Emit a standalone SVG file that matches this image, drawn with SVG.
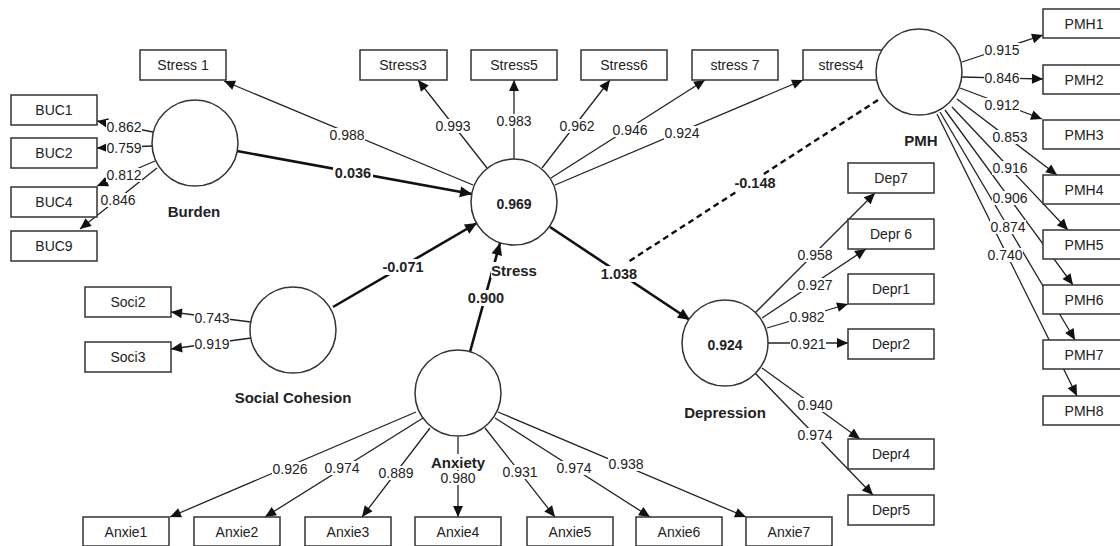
<svg xmlns="http://www.w3.org/2000/svg" width="1120" height="546" viewBox="0 0 1120 546">
<defs>
<marker id="ah" viewBox="0 0 10 10" refX="10" refY="5" markerWidth="12" markerHeight="11" markerUnits="userSpaceOnUse" orient="auto"><path d="M0,0.5 L10,5 L0,9.5 z" fill="#111"/></marker>
<marker id="ahb" viewBox="0 0 10 10" refX="10" refY="5" markerWidth="14" markerHeight="12" markerUnits="userSpaceOnUse" orient="auto"><path d="M0,0.5 L10,5 L0,9.5 z" fill="#111"/></marker>
</defs>
<style>
.ind{stroke:#222;stroke-width:1.3;fill:none;marker-end:url(#ah)}
.str{stroke:#111;stroke-width:2.6;fill:none;marker-end:url(#ahb)}
.dash{stroke:#111;stroke-width:2.4;fill:none;stroke-dasharray:6 4}
.box{fill:#fff;stroke:#333;stroke-width:1.5}
.lv{fill:#fff;stroke:#333;stroke-width:1.5}
.bg{fill:#fff;stroke:none}
.bt{font-family:"Liberation Sans",Arial,sans-serif;font-size:14px;fill:#222;text-anchor:middle;dominant-baseline:central}
.lbl{font-family:"Liberation Sans",Arial,sans-serif;font-size:14px;fill:#222;text-anchor:middle;dominant-baseline:central}
.blbl{font-family:"Liberation Sans",Arial,sans-serif;font-size:14.5px;font-weight:bold;fill:#222;text-anchor:middle;dominant-baseline:central}
.nm{font-family:"Liberation Sans",Arial,sans-serif;font-size:15px;font-weight:bold;fill:#222;text-anchor:middle;dominant-baseline:central}
.val{font-family:"Liberation Sans",Arial,sans-serif;font-size:14px;font-weight:bold;fill:#222;text-anchor:middle;dominant-baseline:central}
</style>
<rect width="1120" height="546" fill="#fff"/>
<g id="connectors">
<path class="str" d="M237,151 L472,194"/>
<path class="str" d="M333,307 L477,223"/>
<path class="str" d="M470,352 L500,243"/>
<path class="str" d="M550,227 L690,320"/>
<path class="dash" d="M878,100 L628,262"/>
<path class="ind" d="M473,185 L224,81"/>
<path class="ind" d="M487,168 L418,80"/>
<path class="ind" d="M514,160 L514,80"/>
<path class="ind" d="M542,168 L610,80"/>
<path class="ind" d="M551,178 L705,80"/>
<path class="ind" d="M555,185 L803,80"/>
<path class="ind" d="M153,132 L97,121"/>
<path class="ind" d="M153,146 L97,148"/>
<path class="ind" d="M155,161 L97,186"/>
<path class="ind" d="M157,168 L80,229"/>
<path class="ind" d="M251,322 L171,312"/>
<path class="ind" d="M251,338 L171,349"/>
<path class="ind" d="M416,412 L170,517"/>
<path class="ind" d="M423,418 L265,517"/>
<path class="ind" d="M430,428 L362,517"/>
<path class="ind" d="M458,437 L458,517"/>
<path class="ind" d="M485,428 L555,517"/>
<path class="ind" d="M495,418 L650,517"/>
<path class="ind" d="M498,412 L746,517"/>
<path class="ind" d="M755,313 L875,193"/>
<path class="ind" d="M762,318 L866,249"/>
<path class="ind" d="M767,328 L848,304"/>
<path class="ind" d="M768,343 L848,343"/>
<path class="ind" d="M762,368 L860,439"/>
<path class="ind" d="M755,373 L873,495"/>
<path class="ind" d="M962,62 L1043,35"/>
<path class="ind" d="M962,77 L1043,79"/>
<path class="ind" d="M960,88 L1042,119"/>
<path class="ind" d="M957,99 L1057,175"/>
<path class="ind" d="M952,107 L1068,230"/>
<path class="ind" d="M945,110 L1073,285"/>
<path class="ind" d="M940,112 L1075,340"/>
<path class="ind" d="M937,114 L1077,396"/>
</g>
<g id="stress1"><rect class="box" x="140" y="50" width="86" height="30"/><text class="bt" x="183" y="65">Stress 1</text></g>
<g id="stress3"><rect class="box" x="360" y="50" width="87" height="30"/><text class="bt" x="403" y="65">Stress3</text></g>
<g id="stress5"><rect class="box" x="471" y="50" width="86" height="30"/><text class="bt" x="514" y="65">Stress5</text></g>
<g id="stress6"><rect class="box" x="581" y="50" width="86" height="30"/><text class="bt" x="624" y="65">Stress6</text></g>
<g id="stress7"><rect class="box" x="692" y="50" width="86" height="30"/><text class="bt" x="735" y="65">stress 7</text></g>
<g id="stress4"><rect class="box" x="803" y="50" width="86" height="30"/><text class="bt" x="841" y="65">stress4</text></g>
<g id="buc1"><rect class="box" x="11" y="95" width="86" height="30"/><text class="bt" x="54" y="110">BUC1</text></g>
<g id="buc2"><rect class="box" x="11" y="138" width="86" height="30"/><text class="bt" x="54" y="153">BUC2</text></g>
<g id="buc4"><rect class="box" x="11" y="187" width="86" height="30"/><text class="bt" x="54" y="202">BUC4</text></g>
<g id="buc9"><rect class="box" x="11" y="231" width="86" height="30"/><text class="bt" x="54" y="246">BUC9</text></g>
<g id="soci2"><rect class="box" x="85" y="287" width="86" height="30"/><text class="bt" x="128" y="302">Soci2</text></g>
<g id="soci3"><rect class="box" x="85" y="342" width="86" height="30"/><text class="bt" x="128" y="357">Soci3</text></g>
<g id="pmh1"><rect class="box" x="1043" y="9" width="86" height="29"/><text class="bt" x="1084" y="24">PMH1</text></g>
<g id="pmh2"><rect class="box" x="1043" y="65" width="86" height="29"/><text class="bt" x="1084" y="80">PMH2</text></g>
<g id="pmh3"><rect class="box" x="1043" y="120" width="86" height="29"/><text class="bt" x="1084" y="135">PMH3</text></g>
<g id="pmh4"><rect class="box" x="1043" y="175" width="86" height="29"/><text class="bt" x="1084" y="190">PMH4</text></g>
<g id="pmh5"><rect class="box" x="1043" y="230" width="86" height="29"/><text class="bt" x="1084" y="245">PMH5</text></g>
<g id="pmh6"><rect class="box" x="1043" y="285" width="86" height="29"/><text class="bt" x="1084" y="300">PMH6</text></g>
<g id="pmh7"><rect class="box" x="1043" y="340" width="86" height="29"/><text class="bt" x="1084" y="355">PMH7</text></g>
<g id="pmh8"><rect class="box" x="1043" y="396" width="86" height="29"/><text class="bt" x="1084" y="411">PMH8</text></g>
<g id="dep7"><rect class="box" x="848" y="163" width="86" height="30"/><text class="bt" x="891" y="178">Dep7</text></g>
<g id="depr6"><rect class="box" x="848" y="219" width="86" height="30"/><text class="bt" x="891" y="234">Depr 6</text></g>
<g id="depr1"><rect class="box" x="848" y="274" width="86" height="30"/><text class="bt" x="891" y="289">Depr1</text></g>
<g id="depr2"><rect class="box" x="848" y="329" width="86" height="30"/><text class="bt" x="891" y="344">Depr2</text></g>
<g id="depr4"><rect class="box" x="848" y="439" width="86" height="30"/><text class="bt" x="891" y="454">Depr4</text></g>
<g id="depr5"><rect class="box" x="848" y="495" width="86" height="30"/><text class="bt" x="891" y="510">Depr5</text></g>
<g id="anxie1"><rect class="box" x="83" y="517" width="86" height="29"/><text class="bt" x="126" y="532">Anxie1</text></g>
<g id="anxie2"><rect class="box" x="194" y="517" width="86" height="29"/><text class="bt" x="237" y="532">Anxie2</text></g>
<g id="anxie3"><rect class="box" x="305" y="517" width="86" height="29"/><text class="bt" x="348" y="532">Anxie3</text></g>
<g id="anxie4"><rect class="box" x="415" y="517" width="86" height="29"/><text class="bt" x="458" y="532">Anxie4</text></g>
<g id="anxie5"><rect class="box" x="527" y="517" width="86" height="29"/><text class="bt" x="570" y="532">Anxie5</text></g>
<g id="anxie6"><rect class="box" x="636" y="517" width="86" height="29"/><text class="bt" x="679" y="532">Anxie6</text></g>
<g id="anxie7"><rect class="box" x="746" y="517" width="86" height="29"/><text class="bt" x="789" y="532">Anxie7</text></g>
<g id="burden"><circle class="lv" cx="195" cy="143" r="43"/><text class="nm" x="194" y="211">Burden</text></g>
<g id="stress"><circle class="lv" cx="514" cy="202" r="43"/><text class="val" x="514" y="204">0.969</text><rect class="bg" x="491" y="262" width="47" height="16"/><text class="nm" x="514" y="270">Stress</text></g>
<g id="pmh"><circle class="lv" cx="919" cy="72" r="43"/><text class="nm" x="921" y="140">PMH</text></g>
<g id="depression"><circle class="lv" cx="725" cy="343" r="43"/><text class="val" x="725" y="345">0.924</text><text class="nm" x="725" y="412">Depression</text></g>
<g id="social-cohesion"><circle class="lv" cx="293" cy="330" r="43"/><text class="nm" x="293" y="397">Social Cohesion</text></g>
<g id="anxiety"><circle class="lv" cx="458" cy="393" r="43"/><rect class="bg" x="430" y="454" width="56" height="16"/><text class="nm" x="458" y="462">Anxiety</text></g>
<g id="connector-labels">
<rect class="bg" x="333" y="165" width="40" height="16"/><text class="blbl" x="353" y="173">0.036</text>
<rect class="bg" x="380" y="259" width="46" height="16"/><text class="blbl" x="403" y="267">-0.071</text>
<rect class="bg" x="466" y="290" width="40" height="16"/><text class="blbl" x="486" y="298">0.900</text>
<rect class="bg" x="599" y="266" width="40" height="16"/><text class="blbl" x="619" y="274">1.038</text>
<rect class="bg" x="732" y="175" width="46" height="16"/><text class="blbl" x="755" y="183">-0.148</text>
<rect class="bg" x="329" y="128" width="36" height="14"/><text class="lbl" x="347" y="135">0.988</text>
<rect class="bg" x="435" y="119" width="36" height="14"/><text class="lbl" x="453" y="126">0.993</text>
<rect class="bg" x="496" y="114" width="36" height="14"/><text class="lbl" x="514" y="121">0.983</text>
<rect class="bg" x="559" y="119" width="36" height="14"/><text class="lbl" x="577" y="126">0.962</text>
<rect class="bg" x="612" y="123" width="36" height="14"/><text class="lbl" x="630" y="130">0.946</text>
<rect class="bg" x="664" y="126" width="36" height="14"/><text class="lbl" x="682" y="133">0.924</text>
<rect class="bg" x="106" y="120" width="36" height="14"/><text class="lbl" x="124" y="127">0.862</text>
<rect class="bg" x="106" y="141" width="36" height="14"/><text class="lbl" x="124" y="148">0.759</text>
<rect class="bg" x="106" y="168" width="36" height="14"/><text class="lbl" x="124" y="175">0.812</text>
<rect class="bg" x="100" y="193" width="36" height="14"/><text class="lbl" x="118" y="200">0.846</text>
<rect class="bg" x="194" y="311" width="36" height="14"/><text class="lbl" x="212" y="318">0.743</text>
<rect class="bg" x="194" y="337" width="36" height="14"/><text class="lbl" x="212" y="344">0.919</text>
<rect class="bg" x="272" y="462" width="36" height="14"/><text class="lbl" x="290" y="469">0.926</text>
<rect class="bg" x="324" y="461" width="36" height="14"/><text class="lbl" x="342" y="468">0.974</text>
<rect class="bg" x="378" y="466" width="36" height="14"/><text class="lbl" x="396" y="473">0.889</text>
<rect class="bg" x="440" y="471" width="36" height="14"/><text class="lbl" x="458" y="478">0.980</text>
<rect class="bg" x="502" y="465" width="36" height="14"/><text class="lbl" x="520" y="472">0.931</text>
<rect class="bg" x="556" y="461" width="36" height="14"/><text class="lbl" x="574" y="468">0.974</text>
<rect class="bg" x="608" y="457" width="36" height="14"/><text class="lbl" x="626" y="464">0.938</text>
<rect class="bg" x="797" y="248" width="36" height="14"/><text class="lbl" x="815" y="255">0.958</text>
<rect class="bg" x="797" y="278" width="36" height="14"/><text class="lbl" x="815" y="285">0.927</text>
<rect class="bg" x="789" y="310" width="36" height="14"/><text class="lbl" x="807" y="317">0.982</text>
<rect class="bg" x="790" y="337" width="36" height="14"/><text class="lbl" x="808" y="344">0.921</text>
<rect class="bg" x="797" y="398" width="36" height="14"/><text class="lbl" x="815" y="405">0.940</text>
<rect class="bg" x="797" y="428" width="36" height="14"/><text class="lbl" x="815" y="435">0.974</text>
<rect class="bg" x="984" y="43" width="36" height="14"/><text class="lbl" x="1002" y="50">0.915</text>
<rect class="bg" x="984" y="71" width="36" height="14"/><text class="lbl" x="1002" y="78">0.846</text>
<rect class="bg" x="984" y="98" width="36" height="14"/><text class="lbl" x="1002" y="105">0.912</text>
<rect class="bg" x="992" y="130" width="36" height="14"/><text class="lbl" x="1010" y="137">0.853</text>
<rect class="bg" x="992" y="161" width="36" height="14"/><text class="lbl" x="1010" y="168">0.916</text>
<rect class="bg" x="992" y="191" width="36" height="14"/><text class="lbl" x="1010" y="198">0.906</text>
<rect class="bg" x="990" y="220" width="36" height="14"/><text class="lbl" x="1008" y="227">0.874</text>
<rect class="bg" x="987" y="248" width="36" height="14"/><text class="lbl" x="1005" y="255">0.740</text>
</g>
</svg>
